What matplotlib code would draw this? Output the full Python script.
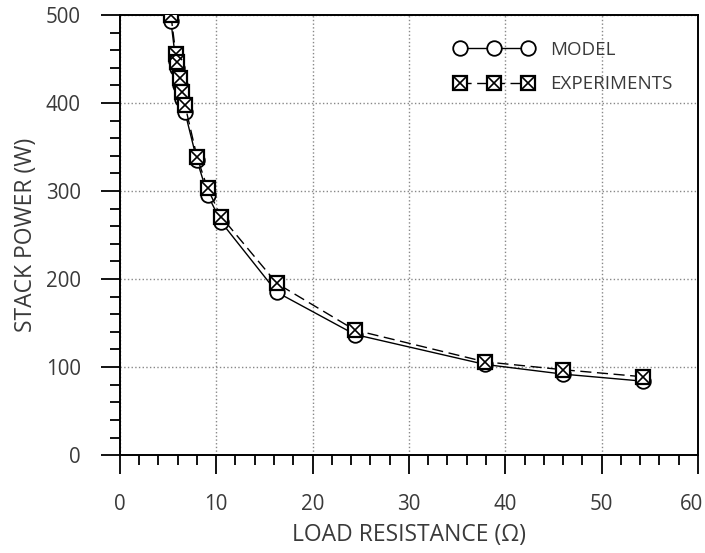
import matplotlib
matplotlib.use('Agg')
import matplotlib.pyplot as plt
from matplotlib.ticker import MultipleLocator

plt.rcParams['font.family'] = ['Open Sans', 'DejaVu Sans']

# Load resistance (ohm) and stack power (W)
resistance = [5.3, 5.8, 5.9, 6.2, 6.5, 6.75, 8.0, 9.1, 10.5, 16.3, 24.4, 37.9, 46.0, 54.3]
model_power = [493, 448, 440, 420, 405, 390, 335, 296, 265, 185, 137, 103, 92, 84]
exp_power = [500, 456, 447, 428, 413, 398, 339, 303, 271, 195, 142, 106, 97, 89]

x_ticks = [0, 10, 20, 30, 40, 50, 60]
x_ticklabels = ['0', '10', '20', '30', '40', '50', '60']

text_color = '#3a3a3a'

fig = plt.figure(figsize=(7.05, 5.53), dpi=100)
ax = fig.add_axes([0.170, 0.177, 0.820, 0.796])

# model: solid line with open circles
ax.plot(resistance, model_power, '-', color='black', lw=1.0,
        marker='o', ms=10.5, mfc='white', mec='black', mew=1.3,
        label='MODEL', zorder=3)

# experiments: dashed line, boxed-x markers
ax.plot(resistance, exp_power, '--', color='black', lw=1.0, dashes=(8, 4),
        zorder=4)
ax.plot(resistance, exp_power, 's', ms=10.5, mfc='white', mec='black', mew=1.6,
        zorder=5)
ax.plot(resistance, exp_power, 'x', ms=8.5, mec='black', mew=1.2, zorder=6)

# legend handles drawn the same way
h_model, = ax.plot([], [], '-', color='black', lw=1.0, marker='o', ms=10.5,
                   mfc='white', mec='black', mew=1.3)
h_exp_sq, = ax.plot([], [], '--', color='black', lw=1.0, dashes=(8, 4), marker='s',
                    ms=10.5, mfc='white', mec='black', mew=1.6)
h_exp_x, = ax.plot([], [], ' ', marker='x', ms=8.5, mec='black', mew=1.2)
leg = ax.legend([h_model, (h_exp_sq, h_exp_x)], ['MODEL', 'EXPERIMENTS'],
                loc='upper right', bbox_to_anchor=(0.985, 0.98), frameon=False,
                numpoints=3, handlelength=4.2, handletextpad=0.9,
                labelspacing=0.9, fontsize=13.5)
for t in leg.get_texts():
    t.set_color(text_color)

ax.set_xlim(0, 60)
ax.set_ylim(0, 500)
# last x label is placed by hand so it stays inside the figure
ax.set_xticks(x_ticks, labels=x_ticklabels[:-1] + [''])
ax.xaxis.set_minor_locator(MultipleLocator(2))
ax.yaxis.set_major_locator(MultipleLocator(100))
ax.yaxis.set_minor_locator(MultipleLocator(20))

ax.tick_params(axis='both', which='major', direction='out', length=14, width=1.3,
               labelsize=14.8, labelcolor=text_color, pad=14)
ax.tick_params(axis='both', which='minor', direction='out', length=7, width=1.3)

ax.annotate(x_ticklabels[-1], xy=(x_ticks[-1], 0), xycoords='data',
            xytext=(-5, -28), textcoords='offset points', ha='center', va='top',
            fontsize=14.8, color=text_color, annotation_clip=False)

ax.grid(True, which='major', linestyle=':', color='#888888', lw=1.0)
ax.set_axisbelow(True)
for s in ax.spines.values():
    s.set_linewidth(1.4)

ax.set_xlabel('LOAD RESISTANCE (Ω)', fontsize=16.5, color=text_color, labelpad=6)
ax.set_ylabel('STACK POWER (W)', fontsize=16.5, color=text_color, labelpad=6)

fig.savefig('out.png', dpi=100)
